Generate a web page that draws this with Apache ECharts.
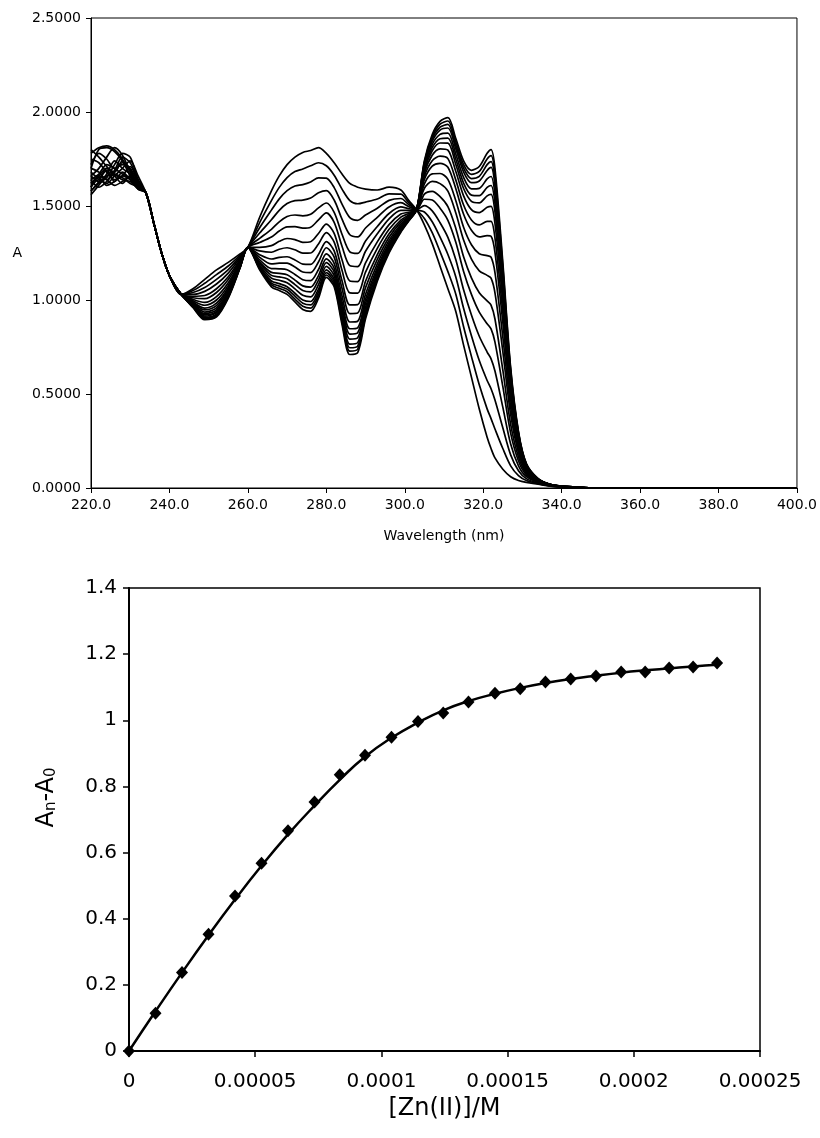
<!DOCTYPE html>
<html>
<head>
<meta charset="utf-8">
<title>UV titration</title>
<script src="https://cdn.jsdelivr.net/npm/echarts@6/dist/echarts.min.js"></script>
<style>
  html, body { margin: 0; padding: 0; background: #fff; }
  #chart { width: 820px; height: 1138px; }
</style>
</head>
<body>
<div id="chart"></div>
<script>
// wavelengths (nm) shared by all spectra
var wl = [220,222,224,226,228,230,232,234,236,238,240,243,246,249,252,255,258,260,263,266,268,270,272,274,276,278,280,282,284,286,288,290,293,296,299,301,303,305,307,309,311,313,315,317,319,321,322,323,325,327,329,331,334,337,340,344,348,352,400];

// absorbance spectra, first = no Zn(II), last = saturated
var sp0  = [1.62,1.66,1.70,1.68,1.74,1.69,1.62,1.57,1.41,1.25,1.13,1.03,1.06,1.11,1.16,1.20,1.245,1.28,1.44,1.58,1.66,1.72,1.76,1.785,1.795,1.81,1.78,1.73,1.67,1.62,1.60,1.59,1.585,1.60,1.585,1.53,1.48,1.40,1.30,1.18,1.06,0.94,0.76,0.59,0.42,0.27,0.21,0.16,0.10,0.06,0.04,0.03,0.02,0.01,0.005,0,0,0,0];
var sp1  = [1.70,1.80,1.81,1.79,1.74,1.66,1.60,1.57,1.41,1.25,1.13,1.03,1.05,1.089,1.135,1.181,1.238,1.28,1.412,1.529,1.599,1.651,1.683,1.697,1.714,1.73,1.714,1.664,1.59,1.529,1.512,1.521,1.537,1.565,1.563,1.519,1.48,1.434,1.358,1.257,1.151,1.032,0.858,0.70,0.549,0.421,0.369,0.314,0.21,0.118,0.066,0.04,0.023,0.011,0.005,0,0,0,0];
var sp2  = [1.58,1.62,1.65,1.72,1.78,1.76,1.64,1.57,1.41,1.25,1.13,1.03,1.04,1.067,1.11,1.162,1.23,1.28,1.384,1.478,1.538,1.582,1.606,1.614,1.628,1.65,1.648,1.598,1.51,1.438,1.424,1.452,1.488,1.53,1.54,1.508,1.48,1.468,1.416,1.334,1.242,1.124,0.956,0.81,0.678,0.572,0.528,0.468,0.32,0.176,0.092,0.05,0.026,0.012,0.006,0.001,0,0,0];
var sp3  = [1.75,1.73,1.68,1.64,1.66,1.71,1.63,1.57,1.41,1.25,1.13,1.03,1.03,1.046,1.085,1.143,1.223,1.28,1.356,1.427,1.477,1.513,1.529,1.531,1.542,1.57,1.582,1.532,1.43,1.347,1.336,1.383,1.44,1.495,1.518,1.497,1.48,1.502,1.474,1.411,1.333,1.216,1.054,0.92,0.807,0.723,0.687,0.622,0.43,0.234,0.118,0.06,0.029,0.013,0.007,0.002,0,0,0];
var sp4  = [1.66,1.70,1.76,1.81,1.77,1.68,1.61,1.57,1.41,1.25,1.13,1.03,1.02,1.024,1.06,1.124,1.215,1.28,1.328,1.376,1.416,1.444,1.452,1.448,1.456,1.49,1.516,1.466,1.35,1.256,1.248,1.314,1.391,1.46,1.495,1.486,1.48,1.536,1.532,1.488,1.424,1.308,1.152,1.03,0.936,0.874,0.846,0.776,0.54,0.292,0.144,0.07,0.032,0.014,0.007,0.002,0,0,0];
var sp5  = [1.60,1.64,1.62,1.66,1.70,1.74,1.66,1.57,1.41,1.25,1.13,1.03,1.012,1.007,1.04,1.109,1.209,1.28,1.306,1.335,1.367,1.389,1.39,1.382,1.387,1.426,1.463,1.413,1.286,1.183,1.178,1.259,1.352,1.432,1.477,1.477,1.48,1.563,1.578,1.55,1.497,1.382,1.23,1.118,1.039,0.995,0.973,0.899,0.628,0.338,0.165,0.078,0.034,0.015,0.007,0.002,0,0,0];
var sp6  = [1.78,1.81,1.82,1.80,1.75,1.66,1.59,1.57,1.41,1.25,1.13,1.03,1.003,0.987,1.018,1.092,1.202,1.28,1.28,1.289,1.312,1.327,1.321,1.307,1.31,1.354,1.404,1.354,1.214,1.101,1.098,1.197,1.309,1.401,1.457,1.467,1.48,1.594,1.631,1.619,1.579,1.464,1.319,1.217,1.155,1.131,1.116,1.038,0.727,0.391,0.188,0.087,0.037,0.016,0.008,0.003,0,0,0];
var sp7  = [1.64,1.67,1.72,1.70,1.67,1.65,1.62,1.57,1.41,1.25,1.13,1.03,0.996,0.972,1.00,1.078,1.197,1.28,1.261,1.254,1.27,1.278,1.267,1.249,1.25,1.298,1.358,1.308,1.158,1.038,1.037,1.148,1.275,1.376,1.441,1.46,1.48,1.618,1.671,1.673,1.642,1.529,1.387,1.294,1.246,1.236,1.228,1.146,0.804,0.431,0.206,0.094,0.039,0.016,0.008,0.003,0,0,0];
var sp8  = [1.56,1.61,1.66,1.68,1.73,1.70,1.63,1.57,1.41,1.25,1.13,1.03,0.989,0.957,0.983,1.065,1.192,1.28,1.241,1.218,1.227,1.23,1.213,1.191,1.189,1.242,1.311,1.261,1.102,0.974,0.975,1.10,1.241,1.352,1.425,1.452,1.48,1.641,1.712,1.727,1.706,1.593,1.456,1.371,1.336,1.342,1.339,1.253,0.881,0.472,0.225,0.101,0.041,0.017,0.009,0.0035,0,0,0];
var sp9  = [1.70,1.68,1.64,1.69,1.76,1.73,1.64,1.57,1.41,1.25,1.13,1.03,0.984,0.947,0.97,1.056,1.188,1.28,1.227,1.192,1.196,1.196,1.175,1.149,1.146,1.202,1.278,1.228,1.062,0.928,0.931,1.066,1.216,1.334,1.414,1.446,1.48,1.658,1.741,1.765,1.752,1.639,1.505,1.426,1.40,1.418,1.418,1.33,0.936,0.501,0.238,0.106,0.043,0.018,0.009,0.004,0,0,0];
var sp10 = [1.62,1.65,1.61,1.63,1.66,1.64,1.60,1.57,1.41,1.25,1.13,1.03,0.979,0.936,0.958,1.046,1.184,1.28,1.213,1.167,1.166,1.161,1.136,1.108,1.103,1.162,1.245,1.195,1.022,0.883,0.887,1.031,1.192,1.317,1.403,1.441,1.48,1.675,1.77,1.804,1.797,1.685,1.554,1.481,1.465,1.493,1.498,1.407,0.991,0.53,0.251,0.111,0.044,0.018,0.009,0.004,0,0,0];
var sp11 = [1.80,1.76,1.71,1.67,1.64,1.63,1.59,1.57,1.41,1.25,1.13,1.03,0.975,0.927,0.948,1.039,1.181,1.28,1.202,1.147,1.142,1.134,1.106,1.075,1.069,1.13,1.219,1.169,0.99,0.847,0.852,1.004,1.173,1.303,1.394,1.437,1.48,1.689,1.793,1.835,1.834,1.722,1.593,1.525,1.517,1.554,1.562,1.469,1.035,0.553,0.261,0.115,0.046,0.019,0.009,0.004,0,0,0];
var sp12 = [1.66,1.63,1.67,1.74,1.70,1.67,1.61,1.57,1.41,1.25,1.13,1.03,0.972,0.921,0.94,1.033,1.179,1.28,1.194,1.131,1.123,1.113,1.082,1.05,1.043,1.106,1.199,1.149,0.966,0.819,0.826,0.983,1.158,1.292,1.387,1.433,1.48,1.699,1.81,1.858,1.861,1.75,1.622,1.558,1.555,1.599,1.609,1.515,1.068,0.57,0.269,0.118,0.046,0.019,0.009,0.0045,0,0,0];
var sp13 = [1.58,1.63,1.70,1.66,1.62,1.66,1.62,1.57,1.41,1.25,1.13,1.03,0.969,0.914,0.933,1.027,1.177,1.28,1.185,1.116,1.105,1.092,1.059,1.025,1.017,1.082,1.179,1.129,0.942,0.792,0.799,0.962,1.144,1.282,1.38,1.43,1.48,1.709,1.828,1.881,1.888,1.777,1.652,1.591,1.594,1.644,1.657,1.561,1.101,0.588,0.277,0.121,0.047,0.019,0.0095,0.0045,0,0,0];
var sp14 = [1.72,1.78,1.75,1.70,1.72,1.69,1.61,1.57,1.41,1.25,1.13,1.03,0.966,0.908,0.925,1.021,1.175,1.28,1.177,1.101,1.087,1.071,1.036,1.00,0.992,1.058,1.16,1.11,0.918,0.765,0.773,0.941,1.129,1.271,1.374,1.427,1.48,1.72,1.845,1.904,1.915,1.805,1.681,1.624,1.633,1.689,1.705,1.608,1.134,0.605,0.284,0.124,0.048,0.019,0.0095,0.0047,0,0,0];
var sp15 = [1.64,1.60,1.63,1.67,1.65,1.62,1.60,1.57,1.41,1.25,1.13,1.03,0.964,0.904,0.92,1.018,1.173,1.28,1.171,1.09,1.074,1.058,1.021,0.983,0.974,1.042,1.146,1.096,0.902,0.746,0.755,0.928,1.119,1.264,1.369,1.424,1.48,1.726,1.857,1.919,1.934,1.823,1.701,1.646,1.658,1.72,1.736,1.638,1.156,0.617,0.29,0.126,0.049,0.02,0.0098,0.0048,0,0,0];
var sp16 = [1.60,1.66,1.64,1.61,1.63,1.66,1.61,1.57,1.41,1.25,1.13,1.03,0.962,0.899,0.915,1.014,1.172,1.28,1.166,1.08,1.062,1.044,1.005,0.967,0.957,1.026,1.133,1.083,0.886,0.728,0.738,0.914,1.11,1.257,1.365,1.422,1.48,1.733,1.868,1.935,1.952,1.842,1.72,1.668,1.684,1.75,1.768,1.669,1.178,0.628,0.295,0.128,0.049,0.02,0.0099,0.0049,0,0,0];
var sp17 = [1.68,1.65,1.69,1.63,1.68,1.64,1.60,1.57,1.41,1.25,1.13,1.03,0.96,0.895,0.91,1.01,1.17,1.28,1.16,1.07,1.05,1.03,0.99,0.95,0.94,1.01,1.12,1.07,0.87,0.71,0.72,0.90,1.10,1.25,1.36,1.42,1.48,1.74,1.88,1.95,1.97,1.86,1.74,1.69,1.71,1.78,1.80,1.70,1.20,0.64,0.30,0.13,0.05,0.02,0.01,0.005,0,0,0];

// titration: [Zn(II)] in M, measured An-A0 and fitted curve
var zn    = [0, 1.05e-5, 2.1e-5, 3.15e-5, 4.2e-5, 5.25e-5, 6.3e-5, 7.35e-5, 8.35e-5, 9.35e-5, 1.04e-4, 1.145e-4, 1.245e-4, 1.345e-4, 1.45e-4, 1.55e-4, 1.65e-4, 1.75e-4, 1.85e-4, 1.95e-4, 2.045e-4, 2.14e-4, 2.235e-4, 2.33e-4];
var dA    = [0, 0.114, 0.237, 0.353, 0.469, 0.568, 0.666, 0.753, 0.835, 0.894, 0.949, 0.996, 1.022, 1.055, 1.082, 1.095, 1.116, 1.125, 1.134, 1.146, 1.146, 1.158, 1.161, 1.173];
var dAfit = [0, 0.12, 0.237, 0.35, 0.458, 0.56, 0.655, 0.742, 0.82, 0.89, 0.947, 0.993, 1.03, 1.058, 1.08, 1.098, 1.113, 1.125, 1.135, 1.144, 1.151, 1.157, 1.163, 1.168];

var spectra = [sp0,sp1,sp2,sp3,sp4,sp5,sp6,sp7,sp8,sp9,sp10,sp11,sp12,sp13,sp14,sp15,sp16,sp17];

var FONT = 'DejaVu Sans';
var myChart = echarts.init(document.getElementById('chart'), null, {renderer: 'canvas'});

function pairs(xs, ys) {
  return xs.map(function (x, i) { return [x, ys[i]]; });
}
function plain(v) {
  return String(parseFloat(v.toPrecision(6)));
}

var series = spectra.map(function (s) {
  return {
    type: 'line', xAxisIndex: 0, yAxisIndex: 0,
    data: pairs(wl, s),
    showSymbol: false, smooth: 0.3,
    lineStyle: {color: '#000', width: 1.7},
    silent: true
  };
});
series.push({
  type: 'line', xAxisIndex: 1, yAxisIndex: 1,
  data: pairs(zn, dAfit),
  showSymbol: false, smooth: true,
  lineStyle: {color: '#000', width: 2.5}
});
series.push({
  type: 'scatter', xAxisIndex: 1, yAxisIndex: 1,
  data: pairs(zn, dA),
  symbol: 'diamond', symbolSize: [12, 13],
  itemStyle: {color: '#000', opacity: 1}
});

var option = {
  animation: false,
  backgroundColor: '#fff',
  grid: [
    {left: 91, right: 22, top: 18, bottom: 650, show: true, borderColor: '#000', borderWidth: 1},
    {left: 129, right: 60, top: 588, bottom: 87, show: true, borderColor: '#000', borderWidth: 1.5}
  ],
  xAxis: [
    {
      type: 'value', gridIndex: 0, min: 220, max: 400, interval: 20,
      name: 'Wavelength (nm)', nameLocation: 'middle', nameGap: 41,
      nameTextStyle: {fontFamily: FONT, fontSize: 14, color: '#000'},
      axisLine: {lineStyle: {color: '#000', width: 1}},
      axisTick: {length: 5, lineStyle: {color: '#000'}},
      axisLabel: {fontFamily: FONT, fontSize: 14, color: '#000', margin: 10,
        formatter: function (v) { return v.toFixed(1); }},
      splitLine: {show: false}
    },
    {
      type: 'value', gridIndex: 1, min: 0, max: 0.00025, interval: 0.00005,
      name: '[Zn(II)]/M', nameLocation: 'middle', nameGap: 46,
      nameTextStyle: {fontFamily: FONT, fontSize: 24, color: '#000'},
      axisLine: {lineStyle: {color: '#000', width: 2}},
      axisTick: {length: 6, lineStyle: {color: '#000', width: 1.5}},
      axisLabel: {fontFamily: FONT, fontSize: 20, color: '#000', margin: 21, formatter: plain},
      splitLine: {show: false}
    }
  ],
  yAxis: [
    {
      type: 'value', gridIndex: 0, min: 0, max: 2.5, interval: 0.5,
      name: 'A', nameLocation: 'middle', nameRotate: 0, nameGap: 69,
      nameTextStyle: {fontFamily: FONT, fontSize: 14, color: '#000'},
      axisLine: {show: true, lineStyle: {color: '#000', width: 1}},
      axisTick: {show: true, length: 5, lineStyle: {color: '#000'}},
      axisLabel: {fontFamily: FONT, fontSize: 14, color: '#000', margin: 10,
        formatter: function (v) { return v.toFixed(4); }},
      splitLine: {show: false}
    },
    {
      type: 'value', gridIndex: 1, min: 0, max: 1.4, interval: 0.2,
      name: '{a|A}{s|n}{a|-A}{s|0}', nameLocation: 'middle', nameRotate: 90, nameGap: 70,
      nameTextStyle: {
        color: '#000',
        padding: [0, 0, 0, 44],
        rich: {
          a: {fontFamily: FONT, fontSize: 24, color: '#000'},
          s: {fontFamily: FONT, fontSize: 15, color: '#000', verticalAlign: 'bottom', padding: [8, 0, 0, 0]}
        }
      },
      axisLine: {show: true, lineStyle: {color: '#000', width: 2}},
      axisTick: {show: true, length: 6, lineStyle: {color: '#000', width: 1.5}},
      axisLabel: {fontFamily: FONT, fontSize: 20, color: '#000', margin: 12, formatter: plain},
      splitLine: {show: false}
    }
  ],
  series: series
};

myChart.setOption(option);
</script>
</body>
</html>
